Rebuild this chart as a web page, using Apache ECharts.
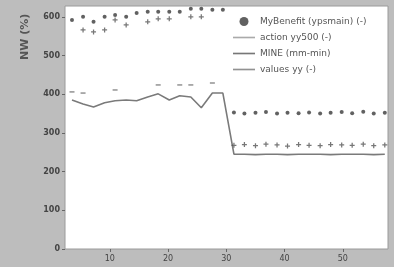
<!DOCTYPE html>
<html>
<head>
<meta charset="utf-8">
<style>html,body{margin:0;padding:0;background:#bdbdbd;}#c{width:394px;height:267px;}</style>
<script src="https://cdn.jsdelivr.net/npm/echarts@6/dist/echarts.min.js"></script>
</head>
<body>
<div id="c"></div>
<script>
// x positions of the samples
var xs = [3.5,5.4,7.2,9.1,10.9,12.8,14.6,16.5,18.3,20.2,22.0,23.9,25.7,27.6,29.4,31.3,33.1,35.0,36.8,38.7,40.5,42.4,44.2,46.1,47.9,49.8,51.6,53.5,55.3,57.2];
var xTicks = [10,20,30,40,50];
var yTicks = [0,100,200,300,400,500,600];
// series values
var seriesA = [592,600,587,600,605,600,610,613,613,613,613,621,621,618,618, 353,350,352,354,350,352,351,353,350,352,354,351,355,350,352];
var seriesB = [null,566,561,566,592,579,null,587,595,595,null,600,600,null,null, 268,270,267,271,269,266,270,268,267,270,269,268,271,267,269];
var seriesC = [385,375,367,378,383,385,383,393,401,385,396,393,365,403,403, 245,245,244,245,245,244,245,245,245,244,245,245,245,244,245];
var seriesD = [406,403,null,null,411,null,null,null,424,null,424,424,null,429,null, null,null,null,null,null,null,null,null,null,null,null,null,null,null,null];
var names = ['MyBenefit (ypsmain) (-)', 'action yy500 (-)', 'MINE (mm-min)', 'values yy (-)'];

function pairs(vals){ return xs.map(function(x,i){ return [x, vals[i]]; }); }
var plus = 'path://M3,0H5V3H8V5H5V8H3V5H0V3H3Z';
var lineIcon = 'path://M0,3H20V4.5H0Z';

var chart = echarts.init(document.getElementById('c'));
chart.setOption({
  animation: false,
  backgroundColor: '#bdbdbd',
  grid: {left: 65, right: 6, top: 6, bottom: 18, show: true, backgroundColor: '#ffffff', borderColor: '#9a9a9a', borderWidth: 1},
  xAxis: {
    type: 'value', min: 2.3, max: 57.75,
    axisLine: {show: false},
    splitLine: {show: false},
    axisTick: {show: true, customValues: xTicks, length: 3, lineStyle: {color: '#666'}},
    axisLabel: {customValues: xTicks, fontSize: 8, color: '#444', fontFamily: 'DejaVu Sans', margin: 6}
  },
  yAxis: {
    type: 'value', min: 0, max: 628,
    axisLine: {show: false},
    splitLine: {show: false},
    axisTick: {show: true, customValues: yTicks, length: 3, lineStyle: {color: '#666'}},
    axisLabel: {customValues: yTicks, fontSize: 8, color: '#444', fontWeight: 'bold', fontFamily: 'DejaVu Sans', margin: 5}
  },
  graphic: [{
    type: 'text', x: 20, y: 60, rotation: Math.PI/2,
    style: {text: 'NW (%)', fontSize: 11, fontWeight: 'bold', fill: '#555', fontFamily: 'DejaVu Sans'}
  }],
  legend: {
    left: 230, top: 15, orient: 'vertical', itemGap: 7, itemWidth: 22, itemHeight: 9,
    backgroundColor: '#ffffff', padding: [2,3],
    textStyle: {fontSize: 9, color: '#555', fontFamily: 'DejaVu Sans'},
    data: [
      {name: names[0], icon: 'circle'},
      {name: names[1], icon: lineIcon},
      {name: names[2], icon: lineIcon},
      {name: names[3], icon: lineIcon}
    ]
  },
  series: [
    {name: names[0], type: 'scatter', data: pairs(seriesA), symbol: 'circle', symbolSize: 4, itemStyle: {color: '#3a3a3a'}, z: 4},
    {name: names[1], type: 'line', data: pairs(seriesC), showSymbol: false, lineStyle: {color: '#7a7a7a', width: 1.6}, itemStyle: {color: '#aaaaaa'}, z: 2},
    {name: names[2], type: 'scatter', data: pairs(seriesB), symbol: plus, symbolSize: 5, itemStyle: {color: '#555555'}, z: 3},
    {name: names[3], type: 'scatter', data: pairs(seriesD), symbol: 'rect', symbolSize: [5,1.5], itemStyle: {color: '#777777'}, z: 3}
  ]
});
</script>
</body>
</html>
